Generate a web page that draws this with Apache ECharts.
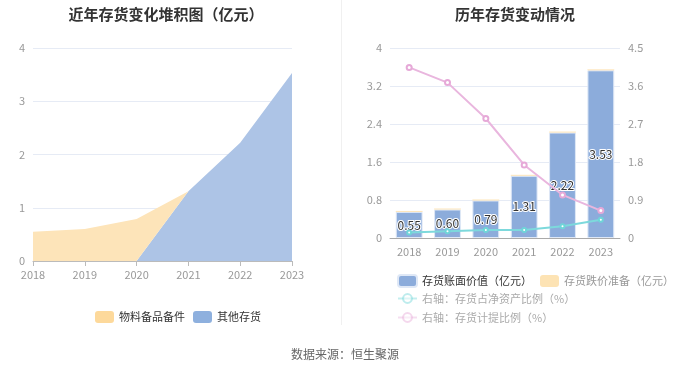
<!DOCTYPE html>
<html><head><meta charset="utf-8">
<script src="https://cdn.jsdelivr.net/npm/echarts@6/dist/echarts.min.js"></script>
<style>html,body{margin:0;padding:0;background:#fff}#c{width:680px;height:367px}</style>
</head><body><div id="c"></div>
<script>
const years = ['2018','2019','2020','2021','2022','2023'];
// left stacked area (亿元)
const spareParts = [0.55, 0.60, 0.79, 0, 0, 0];      // 物料备品备件
const otherInv   = [0, 0, 0, 1.31, 2.22, 3.53];      // 其他存货
// right chart
const bookValue  = [0.55, 0.60, 0.79, 1.31, 2.22, 3.53]; // 存货账面价值（亿元）
const impairment = [0.02, 0.02, 0.02, 0.02, 0.02, 0.02]; // 存货跌价准备（亿元）
const ratioNetAsset = [0.13, 0.16, 0.19, 0.19, 0.28, 0.43]; // 存货占净资产比例（%）
const provisionRatio = [4.04, 3.68, 2.83, 1.73, 1.02, 0.65]; // 存货计提比例（%）
const leftTicks = [0,1,2,3,4];

const axisLabel = {color:'#999', fontSize:11, fontFamily:'Noto Sans CJK SC'};
const splitLine = {lineStyle:{color:'#e6ebf5'}};
const font = 'Noto Sans CJK SC';

const chart = echarts.init(document.getElementById('c'));
chart.setOption({
  animation:false,
  textStyle:{fontFamily:font},
  title:[
    {text:'近年存货变化堆积图（亿元）', left:161, top:2, textAlign:'center',
     textStyle:{fontSize:15, fontWeight:'bold', color:'#333', fontFamily:font}},
    {text:'历年存货变动情况', left:510, top:2, textAlign:'center',
     textStyle:{fontSize:15, fontWeight:'bold', color:'#333', fontFamily:font}},
    {text:'数据来源：恒生聚源', left:340, top:343, textAlign:'center',
     textStyle:{fontSize:12, fontWeight:'normal', color:'#666', fontFamily:font}}
  ],
  graphic:[{type:'line', shape:{x1:341.5,y1:0,x2:341.5,y2:325}, style:{stroke:'#f0f0f0', lineWidth:1}}],
  legend:[
    {data:['物料备品备件','其他存货'], left:90, top:306, itemWidth:19, itemHeight:12, itemGap:8,
     icon:'roundRect', textStyle:{fontSize:11, color:'#333', fontFamily:font}},
    {data:[{name:'存货账面价值（亿元）', textStyle:{color:'#333'}},{name:'存货跌价准备（亿元）', textStyle:{color:'#999'}}],
     left:392, top:269, itemWidth:19, itemHeight:12, itemGap:8, icon:'roundRect',
     textStyle:{fontSize:11, fontFamily:font}},
    {data:['右轴：存货占净资产比例（%）'], left:392, top:288, itemWidth:19, itemHeight:11,
     textStyle:{fontSize:11, color:'#aaa', fontFamily:font}, itemStyle:{opacity:0.45}, lineStyle:{opacity:0.45}},
    {data:['右轴：存货计提比例（%）'], left:392, top:307, itemWidth:19, itemHeight:11,
     textStyle:{fontSize:11, color:'#aaa', fontFamily:font}, itemStyle:{opacity:0.45}, lineStyle:{opacity:0.45}}
  ],
  grid:[
    {left:33, right:388, top:48, bottom:106},
    {left:390, right:60, top:48, bottom:129}
  ],
  xAxis:[
    {type:'category', gridIndex:0, data:years, boundaryGap:false,
     axisLine:{lineStyle:{color:'#bbb'}}, axisTick:{lineStyle:{color:'#bbb'}}, axisLabel:axisLabel},
    {type:'category', gridIndex:1, data:years, boundaryGap:true,
     axisLine:{lineStyle:{color:'#aaa'}}, axisTick:{alignWithLabel:true, lineStyle:{color:'#aaa'}}, axisLabel:axisLabel}
  ],
  yAxis:[
    {type:'value', gridIndex:0, min:leftTicks[0], max:leftTicks[leftTicks.length-1], interval:1,
     axisLine:{show:false}, axisTick:{show:false}, axisLabel:axisLabel, splitLine:splitLine},
    {type:'value', gridIndex:1, min:0, max:4, interval:0.8,
     axisLine:{show:false}, axisTick:{show:false}, axisLabel:axisLabel, splitLine:splitLine},
    {type:'value', gridIndex:1, min:0, max:4.5, interval:0.9, position:'right',
     axisLine:{show:false}, axisTick:{show:false}, axisLabel:axisLabel, splitLine:{show:false}}
  ],
  series:[
    {name:'其他存货', type:'line', xAxisIndex:0, yAxisIndex:0, stack:'a', data:otherInv,
     symbol:'none', lineStyle:{width:0}, itemStyle:{color:'#8eb0de'}, areaStyle:{color:'#adc4e6', opacity:1}},
    {name:'物料备品备件', type:'line', xAxisIndex:0, yAxisIndex:0, stack:'a', data:spareParts,
     symbol:'none', lineStyle:{width:0}, itemStyle:{color:'#fdd99b'}, areaStyle:{color:'#fde4b9', opacity:1}},
    {name:'存货账面价值（亿元）', type:'bar', xAxisIndex:1, yAxisIndex:1, stack:'b', data:bookValue,
     barWidth:'70%', itemStyle:{color:'#8cacdb', borderColor:'#dfe8f6', borderWidth:1},
     label:{show:true, position:'inside', color:'#333', fontSize:12, textBorderColor:'#fff', textBorderWidth:2,
            formatter:p=>p.value.toFixed(2)}},
    {name:'存货跌价准备（亿元）', type:'bar', xAxisIndex:1, yAxisIndex:1, stack:'b', data:impairment,
     barWidth:'70%', itemStyle:{color:'#fde3b4'}},
    {name:'右轴：存货占净资产比例（%）', type:'line', xAxisIndex:1, yAxisIndex:2, data:ratioNetAsset,
     symbol:'emptyCircle', symbolSize:4, itemStyle:{color:'#6fd5d8'}, lineStyle:{width:2, color:'#7dd9dc'}},
    {name:'右轴：存货计提比例（%）', type:'line', xAxisIndex:1, yAxisIndex:2, data:provisionRatio,
     symbol:'emptyCircle', symbolSize:5, itemStyle:{color:'#e6a9d8'}, lineStyle:{width:2, color:'#e9b6de'}}
  ]
});
</script></body></html>
